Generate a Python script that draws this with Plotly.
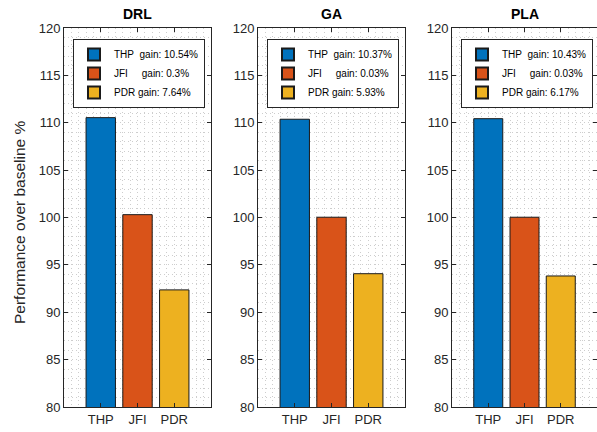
import plotly.graph_objects as go

methods = ["DRL", "GA", "PLA"]
metrics = ["THP", "JFI", "PDR"]
values = {
    "DRL": [110.54, 100.30, 92.36],
    "GA": [110.37, 100.03, 94.07],
    "PLA": [110.43, 100.03, 93.83],
}
gains = {
    "DRL": ["10.54%", "0.3%", "7.64%"],
    "GA": ["10.37%", "0.03%", "5.93%"],
    "PLA": ["10.43%", "0.03%", "6.17%"],
}
colors = ["#0072BD", "#D95319", "#EDB120"]
y_ticks = [80, 85, 90, 95, 100, 105, 110, 115, 120]

W, H = 597, 432
x_domains_px = [(64, 211), (258, 405), (452, 597)]
y_top_px, y_bot_px = 28, 407

fig = go.Figure()
nbsp = "\u00a0"
labels_pad = {"THP": "THP" + nbsp * 2, "JFI": "JFI" + nbsp * 5, "PDR": "PDR" + nbsp}
grid_col = "#cdcdcd"
dash = "1px,3px"

for i, m in enumerate(methods):
    ax = "" if i == 0 else str(i + 1)
    leg = "legend" if i == 0 else f"legend{i + 1}"
    for j, k in enumerate(metrics):
        fig.add_trace(go.Bar(
            x=[j + 1], y=[values[m][j]],
            width=0.8,
            marker=dict(color=colors[j], line=dict(color="#1a1a1a", width=1)),
            name=f"{labels_pad[k]}gain: {gains[m][j]}",
            xaxis="x" + ax, yaxis="y" + ax,
            legend=leg, showlegend=True,
        ))
    x0, x1 = x_domains_px[i]
    dom = [x0 / W, x1 / W]
    axis_common = dict(
        showline=True, linecolor="#262626", linewidth=1, mirror="ticks",
        ticks="inside", ticklen=4, tickcolor="#262626",
        tickfont=dict(family="Liberation Sans, Arial", size=13, color="#262626"),
        showgrid=True, gridcolor=grid_col, griddash=dash, gridwidth=1,
        zeroline=False, automargin=False,
    )
    fig.layout["xaxis" + ax] = dict(
        domain=dom, range=[0, 4], anchor="y" + ax,
        tickmode="array", tickvals=[1, 2, 3], ticktext=metrics,
        minor=dict(dtick=0.2, tick0=0, showgrid=True, gridcolor=grid_col, griddash=dash, ticks=""),
        **axis_common,
    )
    fig.layout["yaxis" + ax] = dict(
        domain=[1 - y_bot_px / H, 1 - y_top_px / H], range=[80, 120], anchor="x" + ax,
        tickmode="array", tickvals=y_ticks,
        minor=dict(dtick=1, showgrid=True, gridcolor=grid_col, griddash=dash, ticks=""),
        **axis_common,
    )
    fig.layout[leg] = dict(
        x=(x0 + 9) / W, y=1 - 39 / H, xanchor="left", yanchor="top",
        bgcolor="white", bordercolor="#262626", borderwidth=1,
        font=dict(family="Liberation Sans, Arial", size=10, color="#000000"),
        itemsizing="constant", tracegroupgap=0, itemwidth=30,
    )
    fig.add_annotation(
        text=f"<b>{m}</b>", xref=f"x{ax} domain", yref="paper",
        x=0.5, y=1 - 14 / H, showarrow=False, yanchor="middle",
        font=dict(family="Liberation Sans, Arial", size=14, color="#000000"),
    )

fig.add_annotation(
    text="Performance over baseline %", xref="paper", yref="paper",
    x=20 / W, y=1 - 222 / H, textangle=-90,
    showarrow=False, xanchor="center", yanchor="middle",
    font=dict(family="Liberation Sans, Arial", size=15.5, color="#262626"),
)

fig.update_layout(
    width=W, height=H,
    margin=dict(l=0, r=0, t=0, b=0, autoexpand=False),
    paper_bgcolor="white", plot_bgcolor="white",
    barmode="overlay",
)

fig.write_html("out.html", config={"displayModeBar": False},
               post_script="document.body.style.margin='0';")
